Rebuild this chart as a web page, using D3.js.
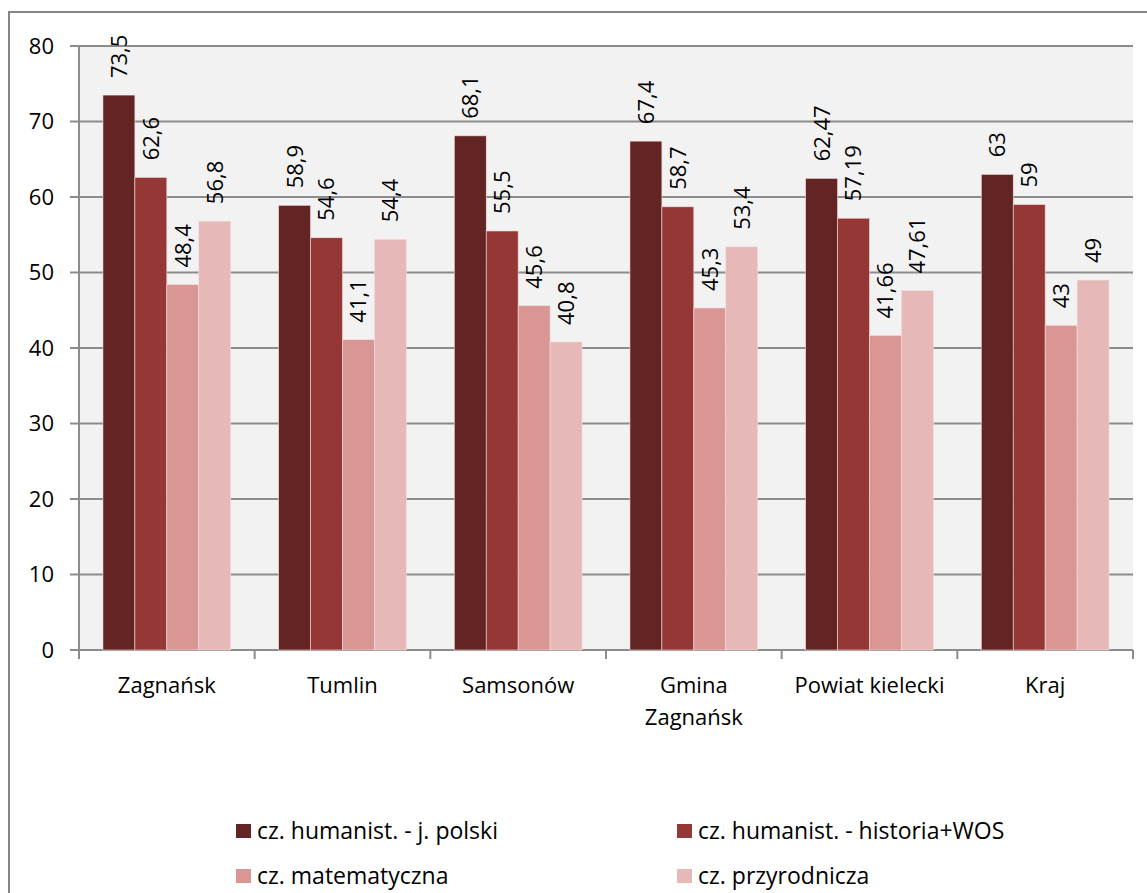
<!DOCTYPE html>
<html><head><meta charset="utf-8">
<script src="https://cdn.jsdelivr.net/npm/d3@7/dist/d3.min.js"></script>
<style>body{margin:0;background:#fff}svg{display:block}text{font-family:"Open Sans",sans-serif;fill:#000}</style>
</head><body>
<script>
const categories = ["Zagnańsk","Tumlin","Samsonów","Gmina\nZagnańsk","Powiat kielecki","Kraj"];
const seriesNames = ["cz. humanist. - j. polski","cz. humanist. - historia+WOS","cz. matematyczna","cz. przyrodnicza"];
const polski   = [73.5, 58.9, 68.1, 67.4, 62.47, 63];
const historia = [62.6, 54.6, 55.5, 58.7, 57.19, 59];
const matma    = [48.4, 41.1, 45.6, 45.3, 41.66, 43];
const przyroda = [56.8, 54.4, 40.8, 53.4, 47.61, 49];
const yTicks = [0,10,20,30,40,50,60,70,80];
const colors = ["#632523","#953735","#d99694","#e6b9b8"];

(function(){
const series = [polski, historia, matma, przyroda];
const W = 1147, H = 893;
const FS = 22;
const svg = d3.select("body").append("svg").attr("width", W).attr("height", H);

// outer border
svg.append("path").attr("d", `M9,${H} L9,12 L${W},12`).attr("fill","none").attr("stroke","#868686").attr("stroke-width",2);

const pl = 79, pr = 1133, pt = 46, pb = 650;
const x0 = d3.scaleBand().domain(d3.range(categories.length)).range([pl, pr]).paddingInner(0).paddingOuter(0);
const y = d3.scaleLinear().domain([0, 80]).range([pb, pt]);
const bw = x0.bandwidth();
const groupW = bw * 4 / 5.5;
const x1 = d3.scaleBand().domain(d3.range(4)).range([(bw - groupW)/2, (bw + groupW)/2]);

svg.append("rect").attr("x", pl).attr("y", pt).attr("width", pr-pl).attr("height", pb-pt).attr("fill","#f2f2f2");

// gridlines
svg.append("g").selectAll("line").data(yTicks).join("line")
  .attr("x1", 70).attr("x2", pr).attr("y1", d=>y(d)).attr("y2", d=>y(d))
  .attr("stroke","#8c8c8c").attr("stroke-width",2);

// y axis line
svg.append("line").attr("x1", pl).attr("x2", pl).attr("y1", pt).attr("y2", pb).attr("stroke","#8c8c8c").attr("stroke-width",2);

// y labels
svg.append("g").selectAll("text").data(yTicks).join("text")
  .attr("x", 54).attr("y", d=>y(d)).attr("dy","0.36em").attr("text-anchor","end")
  .attr("font-size",FS).text(d=>d);

// x ticks
svg.append("g").selectAll("line").data(d3.range(categories.length+1)).join("line")
  .attr("x1", d=>pl + d*bw).attr("x2", d=>pl + d*bw).attr("y1", pb).attr("y2", pb+9)
  .attr("stroke","#8c8c8c").attr("stroke-width",2);

// bars
const fmt = v => String(v).replace(".", ",");
series.forEach((vals, si) => {
  const g = svg.append("g");
  g.selectAll("rect").data(vals).join("rect")
    .attr("x", (d,i)=>x0(i) + x1(si)).attr("width", x1.bandwidth())
    .attr("y", d=>y(d)).attr("height", d=>pb - y(d))
    .attr("fill", colors[si]).attr("stroke","#f3dede").attr("stroke-width",0.6);
  g.selectAll("text").data(vals).join("text")
    .attr("transform", (d,i)=>`translate(${x0(i)+x1(si)+x1.bandwidth()/2},${y(d)-17}) rotate(-90)`)
    .attr("dy","0.36em").attr("text-anchor","start").attr("font-size",FS)
    .text(d=>fmt(d));
});

// x labels
categories.forEach((c, i) => {
  const lines = c.split("\n");
  const t = svg.append("text").attr("x", x0(i)+bw/2).attr("y", 693).attr("text-anchor","middle").attr("font-size",FS);
  lines.forEach((l, li) => t.append("tspan").attr("x", x0(i)+bw/2).attr("dy", li===0?0:32).text(l));
});

// legend
const legPos = [[236,831],[677,831],[236,876],[677,876]];
seriesNames.forEach((n, i) => {
  const [lx, ly] = legPos[i];
  svg.append("rect").attr("x", lx).attr("y", ly-7).attr("width",15).attr("height",14).attr("fill",colors[i]);
  svg.append("text").attr("x", lx+21).attr("y", ly).attr("dy","0.36em").attr("font-size",23).text(n);
});
})();
</script>
</body></html>
